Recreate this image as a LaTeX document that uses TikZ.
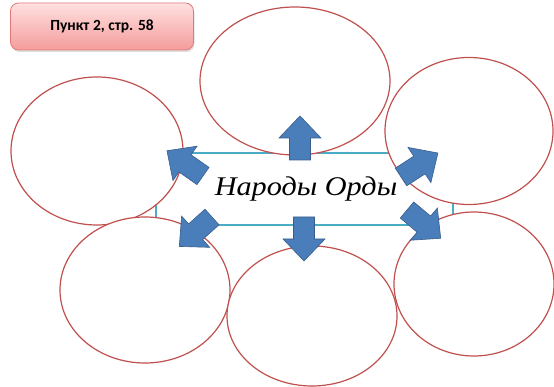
\documentclass[tikz,border=0pt]{standalone}
\usepackage{fontspec}
\setmainfont{Liberation Serif}
\newfontfamily\btnfont{Carlito}
\newfontfamily\mainlabelfont{Liberation Serif}
\usetikzlibrary{shadows}
\definecolor{ellred}{HTML}{C0504D}
\definecolor{rectcyan}{HTML}{4BACC6}
\definecolor{arrfill}{HTML}{4A7EBB}
\definecolor{arrdraw}{HTML}{385D8A}
\definecolor{btntop}{HTML}{FFE0E0}
\definecolor{btnbot}{HTML}{F59C9C}
\definecolor{btnline}{HTML}{E07A7A}
\tikzset{
  oval/.style={ellipse, draw=ellred, line width=1.2pt, fill=white, inner sep=0pt},
  blockarrowstyle/.style={fill=arrfill, draw=arrdraw, line width=0.6pt, line join=miter},
  barrow/.pic={
    \path[blockarrowstyle] (0,-10.5) -- (22,-10.5) -- (22,-21) -- (44,0) -- (22,21) -- (22,10.5) -- (0,10.5) -- cycle;
  }
}
\usetikzlibrary{shapes.geometric}
\begin{document}
\begin{tikzpicture}[x=1pt,y=-1pt]
\useasboundingbox (0,0) rectangle (554,387);
% central frame
\draw[rectcyan, line width=1.2pt] (156,153) rectangle (453,225);
\coordinate (center) at (306,189);
% ellipses
\node[oval, minimum width=190pt, minimum height=148pt] (e1) at (295,81) {};
\node[oval, minimum width=168pt, minimum height=147pt] (e2) at (469,131) {};
\node[oval, minimum width=172pt, minimum height=148pt] (e3) at (97,151) {};
\node[oval, minimum width=170pt, minimum height=146pt] (e4) at (145,290) {};
\node[oval, minimum width=170pt, minimum height=140pt] (e5) at (312,316) {};
\node[oval, minimum width=160pt, minimum height=144pt] (e6) at (474,284) {};
% block arrows
\pic[rotate=90] at (300,160) {barrow};
\pic[rotate=-90] at (304,217) {barrow};
\pic[rotate=145] at (203,176) {barrow};
\pic[rotate=33] at (401,177) {barrow};
\pic[rotate=222] at (212,217) {barrow};
\pic[rotate=-40] at (407,210) {barrow};
% title
\node[inner sep=0pt] (title) at (center) {\scalebox{1.12}[1]{\mainlabelfont\itshape\fontsize{27}{27}\selectfont Народы Орды}};
% button
\node[draw=btnline, line width=0.8pt, rounded corners=8pt, top color=btntop, bottom color=btnbot,
  minimum width=183pt, minimum height=47pt, drop shadow={shadow xshift=1pt, shadow yshift=-2pt, opacity=0.25}] (btn) at (102,26.5)
  {\btnfont\bfseries\fontsize{15.5}{17}\selectfont Пункт 2, стр. 58};
\end{tikzpicture}
\end{document}
